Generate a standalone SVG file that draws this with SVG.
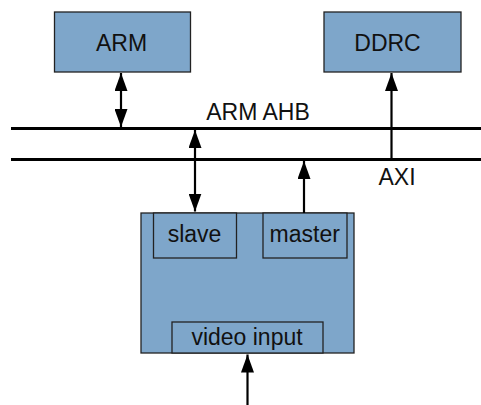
<svg xmlns="http://www.w3.org/2000/svg" width="481" height="405" viewBox="0 0 481 405">
<defs>
<style>
.box{fill:#7ea6ca;stroke:#222;stroke-width:1.3}
.t{font-family:"Liberation Sans",Arial,sans-serif;fill:#111;text-anchor:middle;font-size:23px}
.bus{stroke:#000;stroke-width:3.2;fill:none}
.ln{stroke:#000;stroke-width:2.2;fill:none}
</style>
<marker id="ah" markerWidth="18" markerHeight="13" refX="18" refY="6.5" orient="auto-start-reverse" markerUnits="userSpaceOnUse" viewBox="0 0 18 13">
<path d="M0,0 L18,6.5 L0,13 Z" fill="#000"/>
</marker>
</defs>
<rect width="481" height="405" fill="#fff"/>
<g id="arm"><rect class="box" x="54.5" y="12" width="136" height="60"/><text class="t" x="121.5" y="51">ARM</text></g>
<g id="ddrc"><rect class="box" x="324" y="12" width="137" height="60"/><text class="t" x="387.5" y="51">DDRC</text></g>
<g id="buses">
<line class="bus" x1="11" y1="128.5" x2="481" y2="128.5"/>
<line class="bus" x1="11" y1="159.5" x2="481" y2="159.5"/>
<text class="t" x="258" y="120">ARM AHB</text>
<text class="t" x="397" y="185">AXI</text>
</g>
<g id="vi">
<rect class="box" x="141" y="213" width="213" height="140"/>
<rect class="box" x="153.5" y="213" width="83" height="45"/>
<text class="t" x="194.5" y="242">slave</text>
<rect class="box" x="263" y="213" width="84" height="45"/>
<text class="t" x="304.7" y="242">master</text>
<rect class="box" x="172" y="322" width="151" height="31"/>
<text class="t" x="247" y="344.5">video input</text>
</g>
<g id="connectors">
<line class="ln" x1="121" y1="73" x2="121" y2="127" marker-start="url(#ah)" marker-end="url(#ah)"/>
<line class="ln" x1="391.5" y1="159" x2="391.5" y2="73" marker-end="url(#ah)"/>
<line class="ln" x1="195" y1="130" x2="195" y2="211.5" marker-start="url(#ah)" marker-end="url(#ah)"/>
<line class="ln" x1="304" y1="213" x2="304" y2="161" marker-end="url(#ah)"/>
<line class="ln" x1="247.5" y1="405" x2="247.5" y2="354.5" marker-end="url(#ah)"/>
</g>
</svg>
